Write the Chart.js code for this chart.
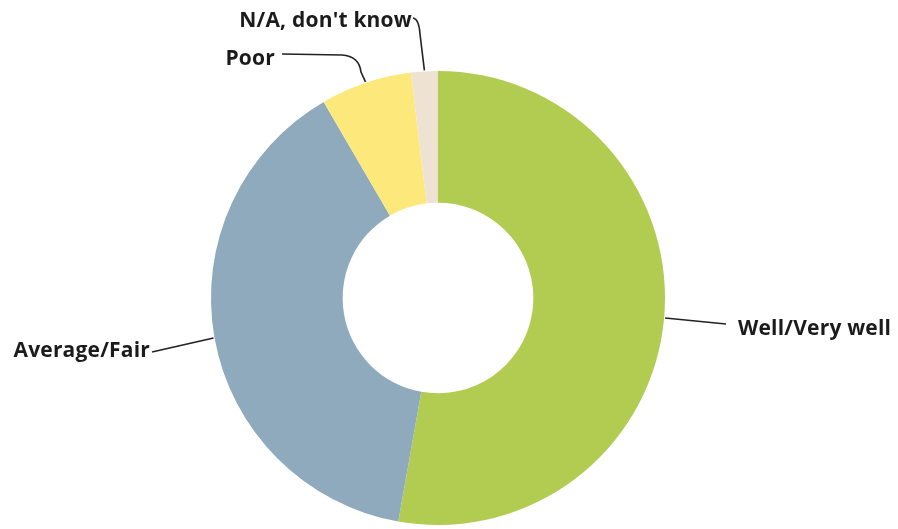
<!DOCTYPE html>
<html>
<head>
<meta charset="utf-8">
<script src="https://cdn.jsdelivr.net/npm/chart.js@4"></script>
<style>
  html, body { margin: 0; padding: 0; background: #fff; }
  #wrap { width: 898px; height: 529px; }
</style>
</head>
<body>
<div id="wrap"><canvas id="pieChart" width="898" height="529"></canvas></div>
<script>
// answer shares, clockwise from 12 o'clock
const categories = ["Well/Very well", "Average/Fair", "Poor", "N/A, don't know"];
const shares = [52.8, 38.8, 6.5, 1.9];
const colors = ["#b2cc52", "#8eaabc", "#fde97b", "#eee2d3"];

// where each callout sits and how its leader line bends
const callouts = [
    { tx: 738, ty: 335, align: "left",  path: [[726, 324]] },
    { tx: 150, ty: 357, align: "right", path: [[152, 352]] },
    { tx: 275, ty: 65,  align: "right", path: [[282, 54], [342, 55], { c: [359, 56], p: [361, 72] }] },
    { tx: 412, ty: 27,  align: "right", path: [[413, 18], { c: [419, 19], p: [420, 34] }] }
];

const calloutPlugin = {
    id: "callouts",
    afterDraw(chart) {
        const ctx = chart.ctx;
        const arcs = chart.getDatasetMeta(0).data;
        ctx.save();
        ctx.strokeStyle = "#222";
        ctx.lineWidth = 1.6;
        ctx.fillStyle = "#1b1b1b";
        ctx.font = "bold 21px 'Open Sans', 'DejaVu Sans', sans-serif";
        ctx.letterSpacing = "0.2px";
        arcs.forEach((arc, i) => {
            const c = callouts[i];
            const p = arc.getProps(["x", "y", "startAngle", "endAngle", "outerRadius"], true);
            const mid = (p.startAngle + p.endAngle) / 2;
            const ax = p.x + Math.cos(mid) * (p.outerRadius + 1);
            const ay = p.y + Math.sin(mid) * (p.outerRadius + 1);
            ctx.beginPath();
            c.path.forEach((pt, k) => {
                if (k === 0) ctx.moveTo(pt[0], pt[1]);
                else if (pt.c) ctx.quadraticCurveTo(pt.c[0], pt.c[1], pt.p[0], pt.p[1]);
                else ctx.lineTo(pt[0], pt[1]);
            });
            ctx.lineTo(ax, ay);
            ctx.stroke();
            ctx.textAlign = c.align;
            ctx.textBaseline = "alphabetic";
            ctx.fillText(categories[i], c.tx, c.ty);
        });
        ctx.restore();
    }
};

new Chart(document.getElementById("pieChart").getContext("2d"), {
    type: "doughnut",
    data: {
        labels: categories,
        datasets: [{
            data: shares,
            backgroundColor: colors,
            borderWidth: 0
        }]
    },
    options: {
        responsive: false,
        animation: false,
        cutout: "42%",
        rotation: 0,
        layout: { padding: { top: 71, bottom: 4, left: 0, right: 22 } },
        plugins: {
            legend: { display: false },
            tooltip: { enabled: false }
        }
    },
    plugins: [calloutPlugin]
});
</script>
</body>
</html>
